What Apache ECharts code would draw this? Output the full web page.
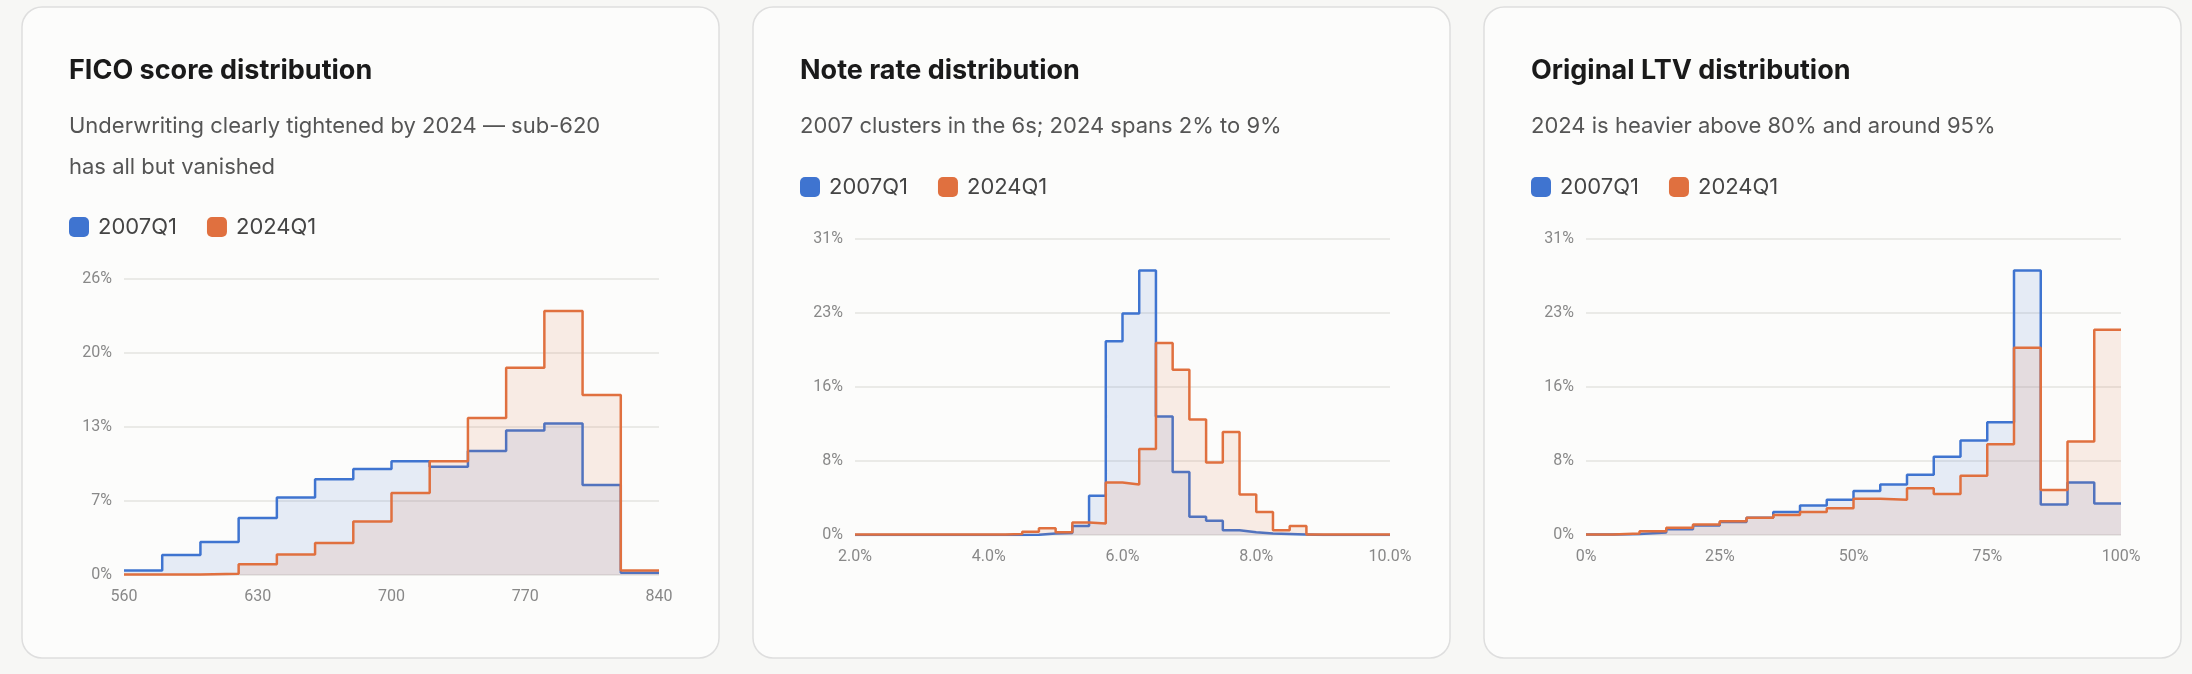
<!DOCTYPE html>
<html>
<head>
<meta charset="utf-8">
<script src="https://cdn.jsdelivr.net/npm/echarts@6/dist/echarts.min.js"></script>
<style>
  html, body { margin: 0; padding: 0; background: #f7f7f5; }
  #container { width: 2192px; height: 674px; }
</style>
</head>
<body>
<div id="container"></div>
<script>
// FICO: bins of 20 from 560
var ficoStart = 560, ficoWidth = 20;
var fico2007 = [0.4, 1.75, 2.9, 5.0, 6.8, 8.4, 9.3, 10.0, 9.5, 10.9, 12.7, 13.3, 7.9, 0.2];
var fico2024 = [0.05, 0.05, 0.1, 0.95, 1.8, 2.8, 4.7, 7.2, 10.0, 13.8, 18.2, 23.2, 15.8, 0.4];

// Note rate: bins of 0.25 from 2.0
var rateStart = 2.0, rateWidth = 0.25;
var rate2007 = [0, 0, 0, 0, 0, 0, 0, 0, 0, 0, 0.02, 0.15, 0.2, 0.95, 4.1, 20.3, 23.2, 27.7, 12.4, 6.6,
  1.9, 1.5, 0.5, 0.3, 0.15, 0.1, 0.05, 0, 0, 0, 0, 0];
var rate2024 = [0.05, 0.05, 0.05, 0.05, 0.05, 0.05, 0.05, 0.05, 0.05, 0.1, 0.35, 0.7, 0.3, 1.3, 1.2, 5.5, 5.3, 9.0, 20.1, 17.3,
  12.1, 7.6, 10.8, 4.25, 2.4, 0.5, 0.95, 0.05, 0.05, 0.05, 0.05, 0.05];

// LTV: bins of 5 from 0
var ltvStart = 0, ltvWidth = 5;
var ltv2007 = [0.05, 0.1, 0.25, 0.6, 1.0, 1.35, 1.8, 2.4, 3.1, 3.7, 4.6, 5.3, 6.3, 8.2, 9.9, 11.8, 27.7, 3.2, 5.5, 3.3];
var ltv2024 = [0.05, 0.15, 0.4, 0.75, 1.1, 1.45, 1.8, 2.1, 2.4, 2.8, 3.8, 3.7, 4.9, 4.3, 6.2, 9.5, 19.6, 4.7, 9.8, 21.5];

var titles = ['FICO score distribution', 'Note rate distribution', 'Original LTV distribution'];
var subtitles = [
  'Underwriting clearly tightened by 2024 \u2014 sub-620\nhas all but vanished',
  '2007 clusters in the 6s; 2024 spans 2% to 9%',
  '2024 is heavier above 80% and around 95%'
];
var seriesNames = ['2007Q1', '2024Q1'];
var blue = '#3f74d0', orange = '#e0703f';

var dom = document.getElementById('container');
var myChart = echarts.init(dom, null, { renderer: 'canvas' });

function steps(start, width, vals) {
  var pts = vals.map(function (v, i) { return [start + width * i, v]; });
  pts.push([start + width * vals.length, vals[vals.length - 1]]);
  return pts;
}

var cardX = [22, 753, 1484];
var cardW = 697;
var panels = [
  { start: ficoStart, width: ficoWidth, a: fico2007, b: fico2024, min: 560, max: 840, interval: 70, ymax: 26,
    fmt: function (v) { return String(v); }, top: 279 },
  { start: rateStart, width: rateWidth, a: rate2007, b: rate2024, min: 2, max: 10, interval: 2, ymax: 31,
    fmt: function (v) { return v.toFixed(1) + '%'; }, top: 239 },
  { start: ltvStart, width: ltvWidth, a: ltv2007, b: ltv2024, min: 0, max: 100, interval: 25, ymax: 31,
    fmt: function (v) { return v + '%'; }, top: 239 }
];

var grid = [], xAxis = [], yAxis = [], series = [], title = [], legend = [], graphic = [];

panels.forEach(function (p, k) {
  var cx = cardX[k];
  graphic.push({
    type: 'rect', z: -10,
    shape: { x: cx, y: 7, width: cardW, height: 651, r: 20 },
    style: { fill: '#fcfcfb', stroke: '#dedede', lineWidth: 1.5 }
  });
  title.push({
    text: titles[k], left: cx + 42, top: 52,
    textStyle: { fontFamily: 'Inter', fontSize: 27, fontWeight: 'bold', color: '#1a1a1a' }
  });
  title.push({
    text: subtitles[k], left: cx + 42, top: 101,
    textStyle: { fontFamily: 'Inter', fontSize: 22, fontWeight: 'normal', color: '#555', lineHeight: 41 }
  });
  legend.push({
    left: cx + 42, top: k === 0 ? 211 : 171,
    data: seriesNames, icon: 'roundRect', itemWidth: 20, itemHeight: 20, itemGap: 30,
    textStyle: { fontFamily: 'Inter', fontSize: 22, color: '#444', padding: [0, 0, 0, 4] }
  });
  grid.push({ left: cx + 102, width: 535, top: p.top, height: (k === 0 ? 575 : 535) - p.top });
  xAxis.push({
    type: 'value', gridIndex: k, min: p.min, max: p.max, interval: p.interval,
    axisLine: { show: false }, axisTick: { show: false }, splitLine: { show: false },
    axisLabel: { color: '#888', fontSize: 16, fontFamily: 'Roboto', margin: 14, formatter: p.fmt }
  });
  yAxis.push({
    type: 'value', gridIndex: k, min: 0, max: p.ymax, interval: p.ymax / 4,
    axisLine: { show: false }, axisTick: { show: false },
    splitLine: { lineStyle: { color: '#e4e4e0', width: 1.5 } },
    axisLabel: { color: '#888', fontSize: 16, fontFamily: 'Roboto', margin: 12,
      formatter: function (v) { return Math.round(v) + '%'; } }
  });
  [p.a, p.b].forEach(function (vals, j) {
    var c = j === 0 ? blue : orange;
    series.push({
      name: seriesNames[j], type: 'line', step: 'end', xAxisIndex: k, yAxisIndex: k,
      data: steps(p.start, p.width, vals), showSymbol: false, symbol: 'none',
      lineStyle: { color: c, width: 2.5 }, itemStyle: { color: c },
      areaStyle: { color: c, opacity: 0.12 }, z: 2 + j
    });
  });
});

var option = {
  backgroundColor: '#f7f7f5',
  animation: false,
  title: title, legend: legend, grid: grid, xAxis: xAxis, yAxis: yAxis, series: series, graphic: graphic
};
myChart.setOption(option);
window.addEventListener('resize', myChart.resize);
</script>
</body>
</html>
